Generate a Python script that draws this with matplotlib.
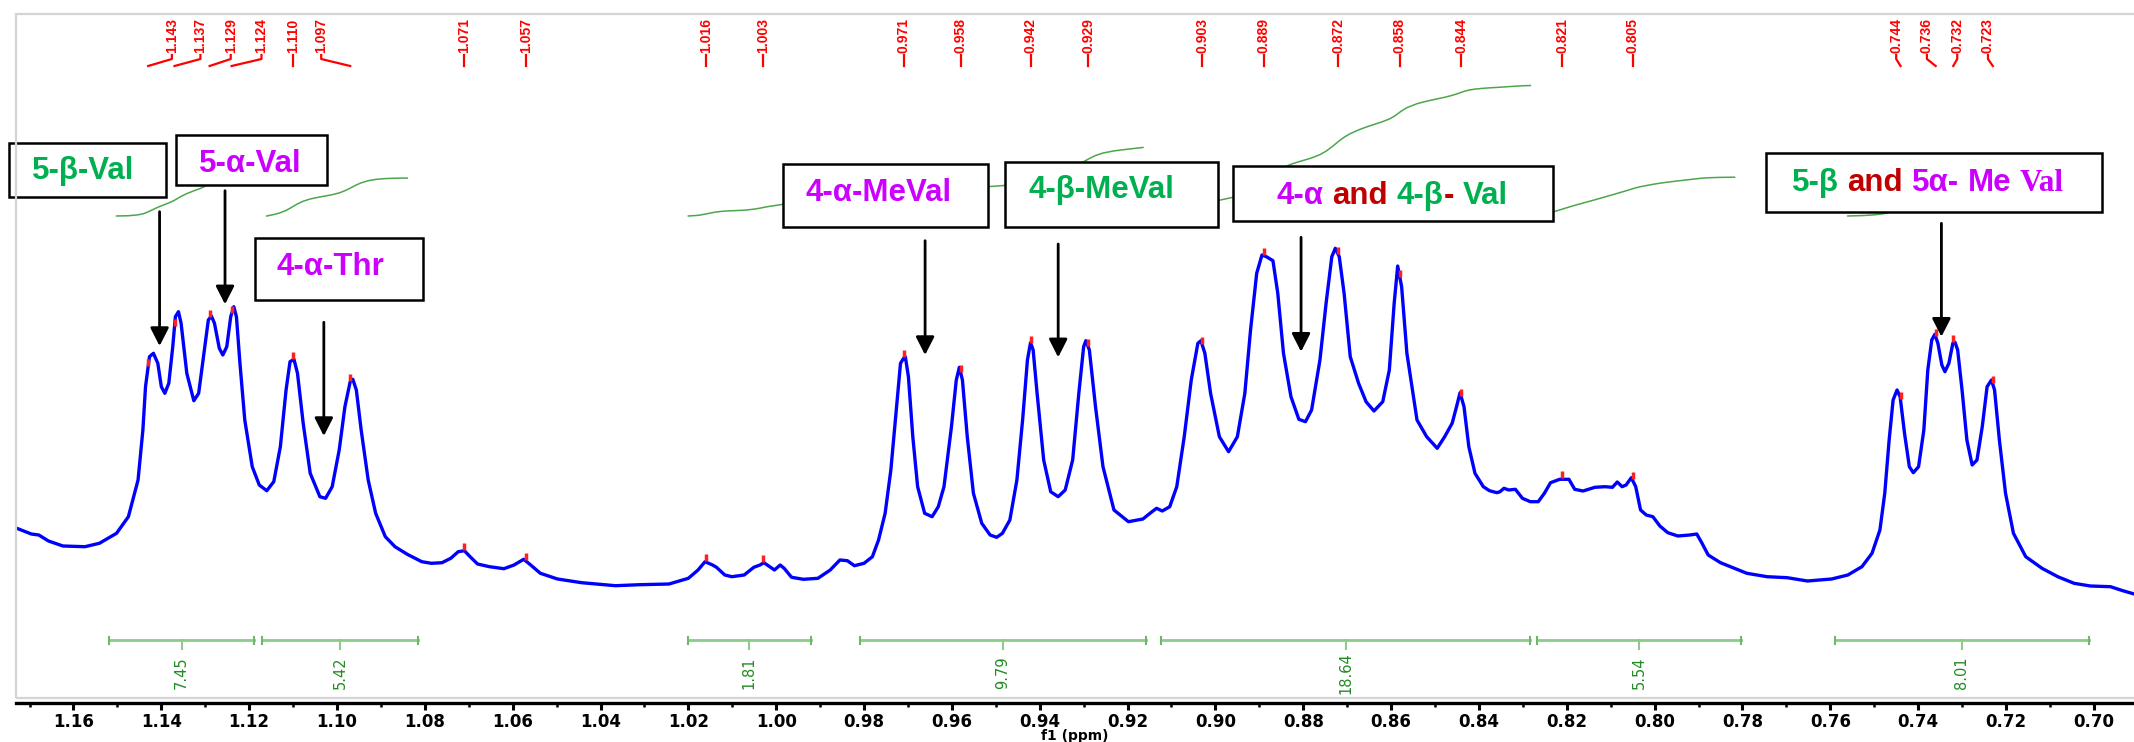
import numpy as np
import matplotlib
matplotlib.use("Agg")
import matplotlib.pyplot as plt
from matplotlib.patches import Rectangle
from matplotlib.offsetbox import TextArea, HPacker, AnnotationBbox, DrawingArea

# ---------------- data ----------------
ppm = np.array([
    1.1729, 1.1696, 1.1679, 1.1657, 1.1624, 1.1574, 1.1541, 1.1502, 1.1475, 1.1453,
    1.1442, 1.1436, 1.1427, 1.1418, 1.1408, 1.1400, 1.1392, 1.1383, 1.1374, 1.1368,
    1.1361, 1.1355, 1.1342, 1.1326, 1.1315, 1.1304, 1.1293, 1.1286, 1.1279, 1.1268,
    1.1260, 1.1251, 1.1242, 1.1235, 1.1229, 1.1221, 1.1210, 1.1193, 1.1177, 1.1160,
    1.1144, 1.1129, 1.1116, 1.1107, 1.1098, 1.1090, 1.1077, 1.1061, 1.1039, 1.1026,
    1.1011, 1.0995, 1.0982, 1.0970, 1.0964, 1.0956, 1.0945, 1.0929, 1.0912, 1.0890,
    1.0868, 1.0840, 1.0807, 1.0785, 1.0761, 1.0741, 1.0724, 1.0710, 1.0697, 1.0680,
    1.0653, 1.0620, 1.0597, 1.0575, 1.0559, 1.0537, 1.0498, 1.0443, 1.0366, 1.0311,
    1.0244, 1.0200, 1.0178, 1.0162, 1.0145, 1.0136, 1.0117, 1.0101, 1.0073, 1.0051,
    1.0037, 1.0028, 1.0015, 1.0004, 0.9991, 0.9982, 0.9965, 0.9938, 0.9905, 0.9877,
    0.9855, 0.9838, 0.9822, 0.9800, 0.9781, 0.9767, 0.9752, 0.9739, 0.9726, 0.9717,
    0.9710, 0.9706, 0.9699, 0.9689, 0.9678, 0.9662, 0.9645, 0.9631, 0.9618, 0.9601,
    0.9590, 0.9583, 0.9576, 0.9565, 0.9551, 0.9532, 0.9513, 0.9498, 0.9485, 0.9468,
    0.9452, 0.9439, 0.9428, 0.9421, 0.9415, 0.9406, 0.9391, 0.9375, 0.9358, 0.9342,
    0.9325, 0.9311, 0.9300, 0.9295, 0.9287, 0.9273, 0.9256, 0.9231, 0.9198, 0.9165,
    0.9149, 0.9134, 0.9121, 0.9104, 0.9088, 0.9071, 0.9055, 0.9040, 0.9033, 0.9024,
    0.9011, 0.8991, 0.8970, 0.8950, 0.8933, 0.8920, 0.8906, 0.8894, 0.8884, 0.8869,
    0.8858, 0.8845, 0.8828, 0.8810, 0.8795, 0.8781, 0.8762, 0.8748, 0.8735, 0.8727,
    0.8718, 0.8707, 0.8693, 0.8674, 0.8657, 0.8639, 0.8619, 0.8604, 0.8593, 0.8585,
    0.8576, 0.8564, 0.8541, 0.8519, 0.8495, 0.8478, 0.8461, 0.8451, 0.8443, 0.8434,
    0.8423, 0.8409, 0.8390, 0.8376, 0.8359, 0.8352, 0.8343, 0.8332, 0.8317, 0.8301,
    0.8283, 0.8265, 0.8251, 0.8237, 0.8216, 0.8195, 0.8182, 0.8163, 0.8136, 0.8113,
    0.8096, 0.8085, 0.8074, 0.8065, 0.8053, 0.8043, 0.8032, 0.8019, 0.8004, 0.7988,
    0.7970, 0.7947, 0.7920, 0.7904, 0.7892, 0.7878, 0.7850, 0.7818, 0.7790, 0.7744,
    0.7698, 0.7652, 0.7597, 0.7560, 0.7528, 0.7505, 0.7487, 0.7476, 0.7466, 0.7457,
    0.7448, 0.7441, 0.7431, 0.7420, 0.7411, 0.7399, 0.7387, 0.7378, 0.7369, 0.7362,
    0.7355, 0.7346, 0.7339, 0.7330, 0.7321, 0.7316, 0.7310, 0.7300, 0.7289, 0.7277,
    0.7266, 0.7254, 0.7243, 0.7233, 0.7226, 0.7215, 0.7201, 0.7183, 0.7155, 0.7118,
    0.7082, 0.7045, 0.7008, 0.6962, 0.6934, 0.6908])

intensity = np.array([
    91.7, 86.0, 85.0, 79.0, 74.0, 73.3, 76.7, 86.7, 103.3, 140.0,
    190.0, 233.3, 263.3, 266.7, 256.7, 233.3, 226.7, 236.7, 273.3, 303.3,
    308.3, 296.7, 246.7, 219.3, 226.7, 263.3, 300.0, 304.0, 296.7, 271.7,
    265.0, 273.3, 303.3, 313.3, 303.3, 256.7, 200.0, 153.3, 135.0, 129.3,
    138.3, 173.3, 230.0, 258.3, 260.7, 246.7, 196.7, 146.7, 123.3, 121.7,
    133.3, 170.0, 213.3, 238.3, 240.7, 230.0, 190.0, 140.0, 106.7, 83.3,
    73.3, 65.7, 58.3, 56.7, 57.3, 61.7, 68.3, 69.3, 63.3, 56.0,
    53.3, 51.3, 55.0, 60.7, 55.0, 46.7, 41.0, 37.3, 34.3, 35.3,
    36.0, 41.7, 50.0, 58.3, 55.0, 52.7, 45.0, 43.3, 45.0, 52.7,
    55.0, 57.3, 53.3, 50.0, 55.0, 51.7, 42.7, 40.7, 41.7, 50.0,
    60.0, 59.3, 54.3, 56.7, 63.3, 80.0, 106.7, 150.0, 213.3, 256.7,
    261.7, 263.3, 243.3, 183.3, 133.3, 106.7, 103.3, 113.3, 133.3, 193.3,
    240.0, 252.7, 240.0, 183.3, 126.7, 96.7, 85.0, 82.7, 86.7, 100.0,
    140.0, 200.0, 260.0, 277.3, 270.0, 226.7, 160.0, 128.3, 123.3, 130.0,
    160.0, 226.7, 273.3, 279.3, 270.0, 213.3, 153.3, 110.0, 98.3, 101.0,
    106.7, 111.7, 109.0, 113.3, 133.3, 183.3, 240.0, 276.7, 279.3, 266.7,
    226.7, 183.3, 168.3, 183.3, 226.7, 290.0, 346.7, 365.0, 363.3, 359.3,
    326.7, 266.7, 223.3, 200.7, 198.3, 210.0, 260.0, 316.7, 363.3, 371.7,
    363.3, 326.7, 263.3, 236.7, 218.3, 209.0, 218.3, 250.0, 316.7, 354.0,
    333.3, 266.7, 200.0, 183.3, 171.7, 183.3, 196.7, 213.3, 227.3, 213.3,
    173.3, 146.7, 133.3, 129.3, 127.3, 128.3, 131.7, 130.0, 130.7, 121.7,
    118.3, 118.3, 126.7, 137.3, 140.7, 140.7, 130.7, 129.0, 132.7, 133.3,
    132.7, 138.0, 133.3, 135.0, 142.3, 133.3, 110.0, 105.0, 103.3, 94.0,
    87.3, 84.0, 85.0, 86.0, 76.7, 65.0, 57.3, 51.7, 46.7, 43.3,
    42.3, 39.0, 41.0, 45.0, 53.3, 66.7, 90.0, 126.7, 180.0, 220.0,
    230.0, 223.3, 186.7, 153.3, 147.3, 153.3, 190.0, 250.0, 280.0, 285.7,
    276.7, 255.0, 248.3, 256.7, 276.7, 277.7, 270.0, 230.0, 180.0, 155.0,
    160.0, 193.3, 233.3, 240.0, 230.0, 180.0, 126.7, 86.7, 63.3, 51.7,
    43.3, 36.7, 34.0, 33.3, 29.3, 26.0])

peak_ppm = [1.143, 1.137, 1.129, 1.124, 1.110, 1.097, 1.071, 1.057, 1.016, 1.003,
            0.971, 0.958, 0.942, 0.929, 0.903, 0.889, 0.872, 0.858, 0.844, 0.821,
            0.805, 0.744, 0.736, 0.732, 0.723]

integral_start = [1.1519, 1.1171, 1.0201, 0.9809, 0.9123, 0.8268, 0.7590]
integral_end = [1.1189, 1.0816, 0.9921, 0.9158, 0.8283, 0.7803, 0.7011]
integral_values = [7.45, 5.42, 1.81, 9.79, 18.64, 5.54, 8.01]

xtick_values = [1.16, 1.14, 1.12, 1.10, 1.08, 1.06, 1.04, 1.02, 1.00, 0.98, 0.96, 0.94,
                0.92, 0.90, 0.88, 0.86, 0.84, 0.82, 0.80, 0.78, 0.76, 0.74, 0.72, 0.70]

# ---------------- layout / style ----------------
W, H = 2134, 742
GREEN = "#00B050"
MAG = "#CC00FF"
DRED = "#C00000"
SANS = "Liberation Sans"

# crowded peak labels are spread out (layout only)
label_spread = {1.143: 1.1376, 1.137: 1.1311, 1.129: 1.1242, 1.124: 1.1172,
                1.110: 1.1100, 1.097: 1.1036,
                0.744: 0.7450, 0.736: 0.7380, 0.732: 0.7311, 0.723: 0.7241}

fig = plt.figure(figsize=(W / 100, H / 100), dpi=100)
fig.patch.set_facecolor("white")

# light grey frame of the spectrum window
fig.patches.append(Rectangle((16 / W, 1 - 698 / H), 1.2, (698 - 14) / H,
                             transform=fig.transFigure, fill=False,
                             edgecolor="#d4d4d4", lw=1.6, zorder=0))

ax = fig.add_axes([16 / W, 1 - 703 / H, 1 - 16 / W, (703 - 14) / H])
ax.set_xlim(1.17309, 0.69085)
ax.set_ylim(-83, 606)
ax.patch.set_alpha(0)
for s in ("top", "left", "right"):
    ax.spines[s].set_visible(False)
ax.spines["bottom"].set_linewidth(2.4)
ax.set_yticks([])

ax.set_xticks(xtick_values)
ax.set_xticklabels([f"{v:.2f}" for v in xtick_values], fontsize=12,
                   fontweight="bold", family="DejaVu Sans")
ax.set_xticks([v + 0.01 for v in xtick_values], minor=True)
ax.tick_params(axis="x", which="major", length=5, width=2.2, pad=2)
ax.tick_params(axis="x", which="minor", length=3, width=1.8)
fig.text(1075 / W, 1 - 736 / H, "f1 (ppm)", ha="center", va="center",
         fontsize=10, fontweight="bold", family="DejaVu Sans")

# spectrum
ax.plot(ppm, intensity, color="#0000FF", lw=2.4, zorder=3,
        solid_joinstyle="round", solid_capstyle="round")

# peak markers and labels
rev_x, rev_y = ppm[::-1], intensity[::-1]
for p in peak_ppm:
    yv = np.interp(p, rev_x, rev_y)
    ax.plot([p, p], [yv + 1, yv + 8], color="#FF2020", lw=2.5, zorder=4,
            solid_capstyle="butt")
    lx = label_spread.get(p, p)
    ax.text(lx, 567, f"{p:.3f}", rotation=90, ha="center", va="bottom",
            color="#FF0000", fontsize=10, fontweight="bold", family=SANS)
    ax.plot([lx, lx, p], [565, 561, 554], color="#FF0000", lw=1.6, zorder=4)

# integrals
INT_BASE, INT_SCALE = 404, 7.0
BAR_Y = -20
for a, b, v in zip(integral_start, integral_end, integral_values):
    m = (ppm <= a) & (ppm >= b)
    xs, ys = ppm[m], intensity[m]
    seg = ys - ys.min()
    cum = np.concatenate([[0], np.cumsum(0.5 * (seg[1:] + seg[:-1]) * np.abs(np.diff(xs)))])
    cum = cum / cum[-1] * v * INT_SCALE
    ax.plot(xs, INT_BASE + cum, color="#4CA64C", lw=1.1, zorder=1)
    ax.plot([a, b], [BAR_Y, BAR_Y], color="#8CCB8C", lw=2.0, zorder=2)
    for e in (a, b):
        ax.plot([e, e], [BAR_Y - 3.5, BAR_Y + 3.5], color="#6CB86C", lw=1.5, zorder=2)
    mid = (a + b) / 2
    ax.plot([mid, mid], [BAR_Y, BAR_Y - 9], color="#8CCB8C", lw=1.5, zorder=2)
    ax.text(mid, -53, f"{v:.2f}", rotation=90, ha="center", va="center",
            color="#228B22", fontsize=10.5, family="DejaVu Sans")

# annotation boxes: (left ppm, right ppm, bottom, top), text centre, pieces
FS = 22.5


def piece(s, c, fam=SANS):
    return TextArea(s, textprops=dict(color=c, fontsize=FS, fontweight="bold", family=fam))


def space():
    return DrawingArea(0.278 * FS, 1)


boxes = [
    ((1.1746, 1.1389, 422.7, 477.3), (1.1579, 448.7), [piece("5-β-Val", GREEN)]),
    ((1.1367, 1.1023, 435.0, 485.0), (1.1198, 456.0), [piece("5-α-Val", MAG)]),
    ((1.1187, 1.0804, 319.7, 382.3), (1.1016, 353.0), [piece("4-α-Thr", MAG)]),
    ((0.9984, 0.9517, 393.3, 456.0), (0.9766, 427.0), [piece("4-α-MeVal", MAG)]),
    ((0.9478, 0.8993, 393.3, 458.3), (0.9259, 430.0), [piece("4-β-MeVal", GREEN)]),
    ((0.8961, 0.8232, 399.3, 454.0), (0.8598, 424.2),
     [piece("4-α", MAG), space(), piece("and", DRED), space(), piece("4-β", GREEN),
      piece("-", DRED), space(), piece("Val", GREEN)]),
    ((0.7746, 0.6982, 408.3, 467.3), (0.7378, 437.2),
     [piece("5-β", GREEN), space(), piece("and", DRED), space(), piece("5α-", MAG),
      space(), piece("Me", MAG), space(), piece("Val", MAG, "Liberation Serif")]),
]
for (x0, x1, y0, y1), (tx, ty), parts in boxes:
    ax.add_patch(Rectangle((x1, y0), x0 - x1, y1 - y0, facecolor="white",
                           edgecolor="black", lw=1.8, zorder=5, clip_on=False))
    pack = HPacker(children=parts, align="baseline", pad=0, sep=0)
    ab = AnnotationBbox(pack, (tx, ty), xycoords="data", frameon=False,
                        box_alignment=(0.5, 0.5), pad=0, zorder=6,
                        annotation_clip=False)
    ax.add_artist(ab)

# arrows: x, start, tip
arrows = [(1.1404, 408.3, 274.0), (1.1255, 429.3, 315.7), (1.1030, 297.7, 184.0),
          (0.9661, 379.3, 265.0), (0.9358, 376.0, 262.7), (0.8805, 382.7, 268.3),
          (0.7347, 396.7, 283.3)]
for x, y0, y1 in arrows:
    ax.annotate("", xy=(x, y1), xytext=(x, y0), zorder=6,
                arrowprops=dict(arrowstyle="-|>,head_length=0.55,head_width=0.28",
                                mutation_scale=20, lw=2.0, color="black",
                                shrinkA=0, shrinkB=0))

fig.savefig("out.png", dpi=100, facecolor="white")
